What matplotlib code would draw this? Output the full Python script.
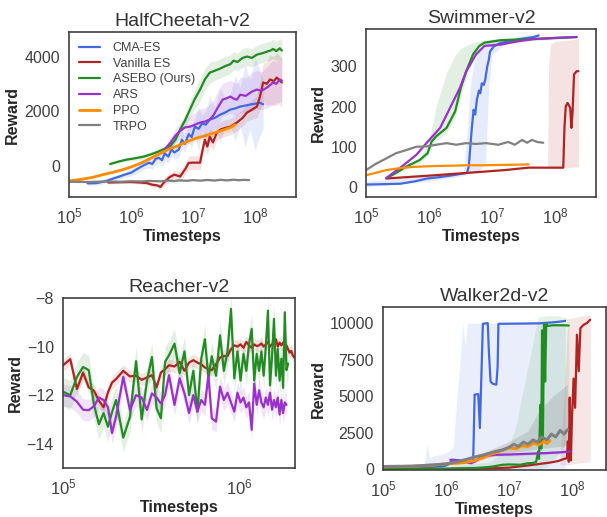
import numpy as np
import matplotlib
matplotlib.use('Agg')
import matplotlib.pyplot as plt
import seaborn as sns

sns.set_style('white')
plt.rcParams['font.family'] = ['Liberation Sans', 'DejaVu Sans']
plt.rcParams['axes.unicode_minus'] = True

C_CMA, C_VES, C_ASEBO = 'royalblue', 'firebrick', 'forestgreen'
C_ARS, C_PPO, C_TRPO = 'darkorchid', 'darkorange', 'gray'

# ---------------- HalfCheetah-v2 ----------------
hc_cma_t = [2.0e5, 2.8e5, 4.0e5, 5.2e5, 6.5e5, 7.9e5, 1.0e6, 1.2e6, 1.4e6, 1.66e6,
            1.95e6, 2.2e6, 2.5e6, 2.8e6, 3.16e6, 3.5e6, 4.0e6, 4.5e6, 5.0e6, 5.9e6,
            6.6e6, 7.4e6, 8.5e6, 9.5e6, 1.07e7, 1.23e7, 1.4e7, 1.6e7, 1.86e7, 2.24e7,
            2.75e7, 3.3e7, 4.0e7, 4.8e7, 5.75e7, 6.9e7, 8.3e7, 1.0e8, 1.2e8, 1.35e8]
hc_cma = [-650, -640, -560, -470, -400, -330, -260, -150, -60, 30,
          110, 60, 250, 290, 200, 450, 330, 600, 480, 590,
          950, 800, 1150, 1050, 1430, 1350, 1550, 1500, 1690, 1750,
          1870, 1950, 2055, 2100, 2165, 2200, 2240, 2270, 2300, 2250]
hc_cma_sd = [80, 80, 80, 90, 100, 100, 120, 150, 150, 150,
             200, 200, 200, 200, 250, 250, 250, 250, 250, 300,
             300, 300, 300, 400, 300, 800, 300, 500, 900, 400,
             1000, 500, 600, 1200, 700, 1500, 900, 1700, 1200, 900]

hc_ves_t = [4.3e5, 6.3e5, 1.0e6, 1.4e6, 1.8e6, 2.2e6, 2.6e6, 3.0e6, 3.3e6, 3.6e6,
            4.2e6, 5.0e6, 6.2e6, 7.6e6, 8.5e6, 1.0e7, 1.3e7, 1.4e7, 1.55e7, 1.7e7,
            1.86e7, 2.1e7, 2.4e7, 2.75e7, 3.3e7, 4.0e7, 5.1e7, 6.3e7, 7.4e7, 8.9e7,
            1.07e8, 1.2e8, 1.35e8, 1.55e8, 1.74e8, 2.0e8, 2.24e8, 2.7e8]
hc_ves = [-620, -610, -600, -620, -640, -700, -720, -780, -650, -560,
          -420, -330, -400, -100, 100, 110, 110, 500, 950, 700,
          1060, 850, 1200, 1320, 1380, 1430, 1580, 1750, 1945, 2050,
          2165, 2530, 3050, 3000, 3160, 3100, 3230, 3050]
hc_ves_sd = [50, 50, 50, 60, 60, 80, 80, 100, 120, 150,
             150, 150, 200, 200, 250, 250, 250, 300, 300, 300,
             300, 300, 300, 300, 300, 300, 300, 300, 300, 350,
             400, 500, 700, 800, 900, 900, 900, 900]

hc_asebo_t = [4.6e5, 6.3e5, 8.5e5, 1.1e6, 1.6e6, 2.2e6, 2.8e6, 3.5e6, 4.3e6, 5.2e6,
              6.2e6, 7.4e6, 8.9e6, 1.07e7, 1.3e7, 1.55e7, 1.86e7, 2.24e7, 2.75e7, 3.3e7,
              4.0e7, 4.5e7, 5.2e7, 6.3e7, 7.4e7, 8.9e7, 1.07e8, 1.3e8, 1.55e8, 1.78e8,
              1.95e8, 2.2e8, 2.5e8, 2.7e8]
hc_asebo = [60, 150, 220, 260, 330, 430, 520, 620, 720, 950,
            1320, 1650, 2050, 2450, 2790, 3160, 3410, 3480, 3560, 3650,
            3720, 3850, 3800, 3950, 4000, 3950, 4070, 4120, 4180, 4220,
            4280, 4200, 4300, 4220]
hc_asebo_sd = [50, 60, 70, 80, 90, 100, 110, 120, 130, 150,
               200, 250, 300, 350, 400, 400, 380, 350, 350, 350,
               330, 330, 320, 350, 330, 330, 350, 350, 350, 350,
               350, 350, 360, 350]

hc_ars_t = [3.5e6, 4.0e6, 4.5e6, 5.2e6, 6.2e6, 7.4e6, 8.9e6, 1.07e7, 1.3e7, 1.58e7,
            1.86e7, 2.14e7, 2.4e7, 2.7e7, 3.0e7, 3.55e7, 4.0e7, 4.6e7, 5.1e7, 5.75e7,
            7.1e7, 8.9e7, 1.07e8, 1.26e8, 1.55e8, 1.74e8, 1.95e8, 2.2e8, 2.5e8, 2.7e8]
hc_ars = [600, 750, 900, 1100, 1280, 1400, 1430, 1500, 1580, 1620,
          1690, 1850, 2055, 2250, 2420, 2480, 2530, 2450, 2420, 2600,
          2560, 2715, 2790, 2740, 2860, 2950, 3050, 3000, 3160, 3120]
hc_ars_sd = [100, 150, 200, 250, 300, 350, 400, 450, 500, 500,
             550, 550, 600, 600, 600, 600, 600, 600, 600, 650,
             650, 700, 700, 700, 750, 800, 800, 800, 800, 800]

hc_ppo_t = [1.0e5, 1.6e5, 2.5e5, 3.5e5, 5.0e5, 7.0e5, 1.0e6, 1.4e6, 2.0e6, 2.8e6,
            4.0e6, 5.6e6, 8.0e6, 1.1e7, 1.6e7, 2.2e7, 3.2e7, 4.0e7, 4.8e7]
hc_ppo = [-560, -500, -420, -330, -250, -160, -50, 80, 250, 420,
          600, 720, 880, 1000, 1100, 1200, 1320, 1400, 1500]
hc_ppo_sd = [30, 30, 30, 30, 30, 40, 40, 50, 60, 70,
             80, 90, 100, 100, 110, 120, 130, 150, 150]

hc_trpo_t = [1.0e5, 2.0e5, 4.0e5, 7.0e5, 1.0e6, 1.5e6, 2.0e6, 3.0e6, 4.0e6, 5.0e6,
             6.0e6, 8.0e6, 1.0e7, 1.3e7, 1.7e7, 2.2e7, 2.8e7, 3.5e7, 4.5e7, 5.5e7,
             6.5e7, 8.0e7]
hc_trpo = [-590, -600, -580, -590, -570, -580, -560, -575, -550, -565,
           -540, -555, -530, -550, -525, -545, -520, -540, -515, -535,
           -520, -530]
hc_trpo_sd = [30, 30, 30, 30, 30, 30, 30, 30, 30, 30,
              30, 30, 30, 30, 30, 30, 30, 30, 30, 30,
              30, 30]

# ---------------- Swimmer-v2 ----------------
sw_cma_t = [1e5, 2e5, 3.5e5, 6e5, 9.3e5, 1.4e6, 1.95e6, 2.8e6, 4.0e6, 4.27e6,
            4.57e6, 4.8e6, 5.1e6, 5.4e6, 5.75e6, 6.2e6, 6.5e6, 6.9e6, 7.4e6, 7.8e6,
            8.4e6, 8.9e6, 9.3e6, 1.07e7, 1.35e7, 1.8e7, 2.5e7, 3.4e7, 4.6e7, 5.5e7]
sw_cma = [6, 7, 8, 14, 21, 24, 27, 31, 35, 50,
          108, 150, 192, 180, 217, 240, 233, 258, 254, 267,
          300, 317, 337, 350, 358, 362, 367, 370, 373, 377]
sw_cma_band_t = [1e5, 1e6, 3.5e6, 4.0e6, 4.5e6, 5.0e6, 6.3e6, 7.9e6, 8.9e6, 1.0e7, 1.6e7, 5.5e7]
sw_cma_lo = [0, 14, 28, 30, 30, 35, 40, 60, 250, 330, 355, 370]
sw_cma_hi = [14, 28, 40, 130, 250, 300, 345, 355, 362, 365, 370, 382]

sw_ves_t = [2.1e5, 5e5, 1.2e6, 4e6, 6e6, 1.6e7, 3.8e7, 1.35e8, 1.41e8, 1.48e8,
            1.58e8, 1.74e8, 1.82e8, 1.9e8, 2.0e8, 2.2e8, 2.35e8]
sw_ves = [21, 25, 29, 35, 37, 42, 48, 48, 147, 201,
          209, 197, 147, 188, 280, 288, 288]
sw_ves_band_t = [7.6e7, 7.9e7, 8.5e7, 1.0e8, 1.5e8, 2.35e8]
sw_ves_lo = [48, 47, 47, 47, 48, 50]
sw_ves_hi = [50, 300, 355, 362, 365, 368]

sw_asebo_t = [2.1e5, 3.0e5, 4.4e5, 7.1e5, 9.5e5, 1.1e6, 1.3e6, 1.9e6, 2.6e6, 3.2e6,
              3.9e6, 5.0e6, 6.3e6, 7.6e6, 1.35e7, 4.6e7, 2.2e8]
sw_asebo = [22, 35, 51, 67, 84, 113, 126, 147, 188, 247,
            288, 330, 351, 359, 365, 368, 373]
sw_asebo_lo = [18, 30, 45, 60, 75, 100, 115, 135, 170, 225,
               270, 318, 342, 352, 360, 364, 370]
sw_asebo_hi = [30, 42, 54, 72, 105, 145, 200, 285, 328, 345,
               352, 359, 363, 366, 370, 372, 376]

sw_ars_t = [2.1e5, 4.0e5, 6.3e5, 9.1e5, 1.5e6, 2.1e6, 3.1e6, 3.9e6, 5.6e6, 7.6e6,
            1.35e7, 2.5e7, 4.6e7, 1e8, 2.2e8]
sw_ars = [22, 55, 80, 109, 147, 193, 247, 288, 330, 351,
          354, 362, 368, 371, 373]

sw_ppo_t = [1e5, 1.5e5, 2.1e5, 3.5e5, 5.75e5, 1.2e6, 2.5e6, 4e6, 8e6, 1.5e7, 3.8e7]
sw_ppo = [29, 36, 42, 47, 50, 52, 53, 54, 54, 55, 56]

sw_trpo_t = [1.0e5, 1.45e5, 2.1e5, 3.0e5, 4.4e5, 6.3e5, 9.1e5, 1.3e6, 1.9e6, 2.7e6,
             3.9e6, 5.5e6, 8e6, 1.26e7, 1.8e7, 2.3e7, 3.0e7, 3.6e7, 4.3e7, 5.2e7, 6.5e7]
sw_trpo = [42, 58, 71, 84, 92, 100, 101, 105, 109, 105,
           109, 107, 109, 105, 112, 105, 117, 110, 117, 112, 110]

# ---------------- Reacher-v2 ----------------
re_t = [1.0e5, 1.1e5, 1.2e5, 1.3e5, 1.4e5, 1.5e5, 1.6e5, 1.7e5, 1.8e5, 1.9e5, 2.0e5,
        2.2e5, 2.4e5, 2.6e5, 2.8e5, 3.0e5, 3.2e5, 3.4e5, 3.6e5, 3.8e5, 4.0e5,
        4.3e5, 4.6e5, 4.9e5, 5.2e5, 5.5e5, 5.8e5, 6.1e5, 6.4e5, 6.7e5, 7.0e5,
        7.4e5, 7.8e5, 8.2e5, 8.6e5, 9.0e5, 9.4e5, 9.8e5, 1.02e6, 1.06e6, 1.10e6,
        1.14e6, 1.18e6, 1.22e6, 1.26e6, 1.30e6, 1.34e6, 1.38e6, 1.42e6, 1.46e6, 1.50e6,
        1.54e6, 1.58e6, 1.62e6, 1.66e6, 1.70e6, 1.74e6, 1.78e6, 1.82e6, 1.86e6, 1.90e6,
        1.94e6, 1.98e6, 2.02e6, 2.06e6]
re_ves = [-10.77, -10.52, -11.75, -11.07, -11.68, -11.82, -12.23, -12.5, -11.89, -11.48, -11.34,
          -11.0, -11.23, -11.2, -11.37, -11.27, -11.18, -11.68, -11.07, -10.93, -10.77,
          -10.82, -10.63, -11.0, -10.66, -10.56, -10.66, -10.73, -10.86, -10.93, -10.97,
          -10.73, -10.45, -10.39, -10.39, -10.11, -9.95, -10.0, -9.91, -10.05, -9.81,
          -9.95, -10.05, -9.91, -9.98, -9.95, -9.87, -10.0, -9.91, -9.81, -10.0,
          -9.91, -9.77, -9.7, -10.0, -9.84, -9.95, -9.84, -10.0, -9.95, -10.11,
          -10.25, -10.18, -10.36, -10.45]
re_asebo = [-11.86, -12.0, -11.25, -10.84, -10.97, -12.4, -13.2, -12.74, -13.3, -12.7, -12.2,
            -13.75, -12.9, -10.6, -13.0, -11.4, -10.43, -12.54, -12.95, -10.63, -10.36,
            -9.88, -11.1, -10.2, -12.0, -11.0, -12.68, -10.5, -9.7, -11.3, -10.4,
            -11.2, -9.54, -11.0, -10.2, -8.45, -11.31, -10.2, -11.4, -10.3, -11.0,
            -9.9, -9.27, -11.4, -10.3, -11.0, -10.2, -11.2, -10.0, -8.52, -11.6,
            -10.4, -8.86, -11.2, -10.1, -11.4, -10.5, -11.7, -8.59, -10.97, -10.7]
re_ars = [-12.0, -12.05, -12.27, -12.6, -12.62, -12.45, -12.1, -12.2, -12.5, -13.56, -12.9,
          -11.25, -12.61, -12.0, -12.1, -12.61, -11.93, -12.1, -12.34, -12.0, -11.18,
          -12.4, -11.31, -11.93, -12.74, -12.0, -12.68, -12.2, -12.4, -11.18, -12.95,
          -13.09, -11.65, -12.2, -11.9, -12.3, -12.68, -11.9, -12.3, -12.1, -12.5,
          -12.3, -13.43, -11.52, -12.4, -11.8, -12.3, -12.5, -12.1, -12.4, -11.9,
          -12.6, -12.2, -12.5, -12.1, -12.8, -12.2, -12.74, -12.3, -12.4]
re_ves_sd, re_asebo_sd, re_ars_sd = 0.25, 0.6, 0.45

# ---------------- Walker2d-v2 ----------------
wk_cma_t = [1e5, 3e5, 6e5, 9e5, 1.0e6, 1.15e6, 1.25e6, 1.5e6, 1.9e6, 2.4e6,
            2.7e6, 2.85e6, 3.25e6, 3.45e6, 3.85e6, 4.6e6, 4.8e6, 5.1e6, 5.5e6, 6.3e6,
            6.6e6, 6.8e6, 1.2e7, 3e7, 5e7, 6.5e7, 7.8e7]
wk_cma = [120, 120, 150, 200, 250, 400, 640, 620, 560, 410,
          525, 5100, 5140, 2810, 9950, 10000, 8000, 6000, 5850, 5780,
          7000, 9950, 9960, 9980, 10050, 10100, 10150]
wk_cma_band_t = [1e5, 4.5e5, 5.0e5, 5.5e5, 6.5e5, 8e5, 1e6, 1.3e6, 1.5e6, 1.7e6,
                 1.85e6, 2.0e6, 2.2e6, 2.4e6, 7.8e7]
wk_cma_lo = [0, 0, 0, 0, 0, 0, 0, 0, 0, 0, 0, 0, 0, 0, 0]
wk_cma_hi = [200, 300, 1700, 800, 900, 1000, 1100, 1500, 5000, 7800,
             10000, 8500, 10000, 10000, 10000]

wk_ves_t = [1e6, 3e6, 1e7, 2e7, 3e7, 4.5e7, 6e7, 7.5e7, 8.3e7, 8.6e7,
            8.9e7, 9.2e7, 9.6e7, 1.0e8, 1.06e8, 1.12e8, 1.2e8, 1.28e8, 1.36e8, 1.53e8,
            1.73e8, 1.95e8]
wk_ves = [0, 20, 100, 250, 350, 450, 550, 700, 750, 1900,
          500, 4900, 600, 3500, 6200, 4200, 9200, 6700, 9650, 9880,
          10000, 10230]
wk_ves_band_t = [6.5e7, 7.5e7, 8.3e7, 8.8e7, 1.2e8, 1.95e8]
wk_ves_lo = [300, 300, 300, 300, 400, 500]
wk_ves_hi = [1000, 5000, 9000, 10300, 10400, 10600]

wk_asebo_t = [1e5, 3e5, 1e6, 3e6, 5e6, 8e6, 1e7, 1.5e7, 2e7, 2.4e7,
              2.7e7, 2.9e7, 3.0e7, 3.15e7, 3.25e7, 3.35e7, 3.45e7, 3.6e7, 3.75e7, 3.9e7,
              4.1e7, 5e7, 7e7, 8.9e7]
wk_asebo = [20, 30, 40, 80, 150, 300, 320, 300, 400, 420,
            500, 1200, 700, 4400, 1400, 9500, 2000, 9900, 6000, 9950,
            9800, 9850, 9850, 9830]
wk_asebo_band_t = [1e5, 1e6, 5e6, 1e7, 1.3e7, 1.6e7, 2e7, 2.5e7, 2.9e7, 4e7, 6e7, 8.9e7]
wk_asebo_lo = [0, 0, 0, 0, 0, 0, 0, 0, 0, 200, 1000, 2000]
wk_asebo_hi = [100, 150, 500, 1500, 3000, 5000, 7000, 9000, 10400, 10500, 10500, 10300]

wk_ars_t = [1.17e6, 1.5e6, 2e6, 2.5e6, 3e6, 3.5e6, 4e6, 6e6, 1e7, 2e7, 4e7, 6.5e7, 9.4e7]
wk_ars = [640, 600, 520, 410, 560, 800, 900, 980, 1000, 1050, 1100, 1150, 1210]

wk_ppo_t = [1e5, 3e5, 6e5, 1e6, 1.5e6, 2e6, 3e6, 4e6, 5e6, 6e6,
            8e6, 1e7, 1.3e7, 1.6e7, 2e7, 2.5e7, 3e7, 3.5e7, 4e7, 4.5e7]
wk_ppo = [150, 200, 250, 370, 400, 450, 600, 800, 1000, 1100,
          1300, 1450, 1400, 1600, 1550, 1800, 1650, 1900, 1750, 1950]

wk_trpo_t = [1e5, 3e5, 1e6, 1.5e6, 2e6, 3e6, 4e6, 6e6, 8e6, 1e7,
             1.2e7, 1.4e7, 1.7e7, 2e7, 2.4e7, 2.8e7, 3.3e7, 4e7, 4.7e7, 5.5e7,
             6.5e7, 7.5e7, 8.5e7]
wk_trpo = [180, 200, 350, 500, 640, 850, 980, 1200, 1320, 1500,
           1700, 1550, 1850, 1700, 2000, 1850, 2200, 2000, 2400, 2200,
           2650, 2400, 2700]
wk_trpo_band_t = [1e5, 1e6, 3e6, 1e7, 2e7, 3e7, 5e7, 8.5e7]
wk_trpo_lo = [100, 250, 600, 1100, 1300, 1400, 1500, 1600]
wk_trpo_hi = [250, 450, 900, 1900, 2600, 4000, 5000, 5800]

legend_names = ['CMA-ES', 'Vanilla ES', 'ASEBO (Ours)', 'ARS', 'PPO', 'TRPO']


def line(ax, t, y, color, sd=None, label=None, lw=1.6):
    t = np.array(t)
    y = np.array(y, dtype=float)
    if sd is not None:
        sd = np.array(sd, dtype=float)
        ax.fill_between(t, y - sd, y + sd, color=color, alpha=0.13, lw=0)
    ax.plot(t, y, color=color, lw=lw, label=label)


def band(ax, t, lo, hi, color, alpha=0.13):
    ax.fill_between(t, lo, hi, color=color, alpha=alpha, lw=0)


def style(ax, title, xmax, ylim, yticks):
    ax.set_xscale('log')
    ax.set_xlim(1e5, xmax)
    ax.set_ylim(*ylim)
    ax.set_yticks(yticks)
    ax.minorticks_off()
    ax.set_title(title, fontsize=14, pad=4, color='.2')
    ax.set_xlabel('Timesteps', fontsize=11.5, fontweight='bold', labelpad=2)
    ax.set_ylabel('Reward', fontsize=11.5, fontweight='bold', labelpad=3)
    ax.tick_params(axis='y', labelsize=11.5, colors='.25', pad=3)
    ax.tick_params(axis='x', labelsize=12, colors='.25', pad=3)
    for s in ax.spines.values():
        s.set_color('.25')
        s.set_linewidth(1.2)


fig = plt.figure(figsize=(6.07, 5.17), dpi=100)
W, H = 607, 517


def axes_px(x0, y0, x1, y1):
    return fig.add_axes([x0 / W, 1 - y1 / H, (x1 - x0) / W, (y1 - y0) / H])


# HalfCheetah
ax = axes_px(69, 32, 296, 197)
line(ax, hc_cma_t, hc_cma, C_CMA, hc_cma_sd, legend_names[0])
line(ax, hc_ves_t, hc_ves, C_VES, hc_ves_sd, legend_names[1])
line(ax, hc_asebo_t, hc_asebo, C_ASEBO, hc_asebo_sd, legend_names[2])
line(ax, hc_ars_t, hc_ars, C_ARS, hc_ars_sd, legend_names[3])
line(ax, hc_ppo_t, hc_ppo, C_PPO, hc_ppo_sd, legend_names[4], lw=2.0)
line(ax, hc_trpo_t, hc_trpo, C_TRPO, hc_trpo_sd, legend_names[5])
style(ax, 'HalfCheetah-v2', 10 ** 8.66, (-1150, 4900), [0, 2000, 4000])
leg = ax.legend(loc='upper left', frameon=False, fontsize=9, handlelength=1.7,
                handletextpad=1.0, labelspacing=0.3, borderaxespad=0.4)
for txt in leg.get_texts():
    txt.set_color('.25')

# Swimmer
ax = axes_px(366, 29, 596, 197)
band(ax, sw_cma_band_t, sw_cma_lo, sw_cma_hi, C_CMA)
band(ax, sw_ves_band_t, sw_ves_lo, sw_ves_hi, C_VES)
band(ax, sw_asebo_t, sw_asebo_lo, sw_asebo_hi, C_ASEBO)
line(ax, sw_cma_t, sw_cma, C_CMA)
line(ax, sw_ves_t, sw_ves, C_VES)
line(ax, sw_asebo_t, sw_asebo, C_ASEBO)
line(ax, sw_ars_t, sw_ars, C_ARS)
line(ax, sw_ppo_t, sw_ppo, C_PPO)
line(ax, sw_trpo_t, sw_trpo, C_TRPO)
style(ax, 'Swimmer-v2', 10 ** 8.65, (-25, 393), [0, 100, 200, 300])

# Reacher
ax = axes_px(63, 298, 295, 468)
line(ax, re_t[:len(re_ves)], re_ves, C_VES, re_ves_sd)
line(ax, re_t[:len(re_asebo)], re_asebo, C_ASEBO, re_asebo_sd)
line(ax, re_t[:len(re_ars)], re_ars, C_ARS, re_ars_sd)
style(ax, 'Reacher-v2', 10 ** 6.318, (-15, -8), [-14, -12, -10, -8])

# Walker2d
ax = axes_px(383, 307, 606, 470)
band(ax, wk_cma_band_t, wk_cma_lo, wk_cma_hi, C_CMA, 0.11)
band(ax, wk_asebo_band_t, wk_asebo_lo, wk_asebo_hi, C_ASEBO, 0.11)
band(ax, wk_ves_band_t, wk_ves_lo, wk_ves_hi, C_VES, 0.11)
band(ax, wk_trpo_band_t, wk_trpo_lo, wk_trpo_hi, C_TRPO, 0.22)
line(ax, wk_cma_t, wk_cma, C_CMA)
line(ax, wk_ves_t, wk_ves, C_VES)
line(ax, wk_asebo_t, wk_asebo, C_ASEBO)
line(ax, wk_ars_t, wk_ars, C_ARS, [100] * len(wk_ars))
line(ax, wk_ppo_t, wk_ppo, C_PPO, [150] * len(wk_ppo), lw=2.0)
line(ax, wk_trpo_t, wk_trpo, C_TRPO, lw=2.2)
style(ax, 'Walker2d-v2', 10 ** 8.54, (-60, 11100), [0, 2500, 5000, 7500, 10000])

fig.savefig('out.png', dpi=100)
